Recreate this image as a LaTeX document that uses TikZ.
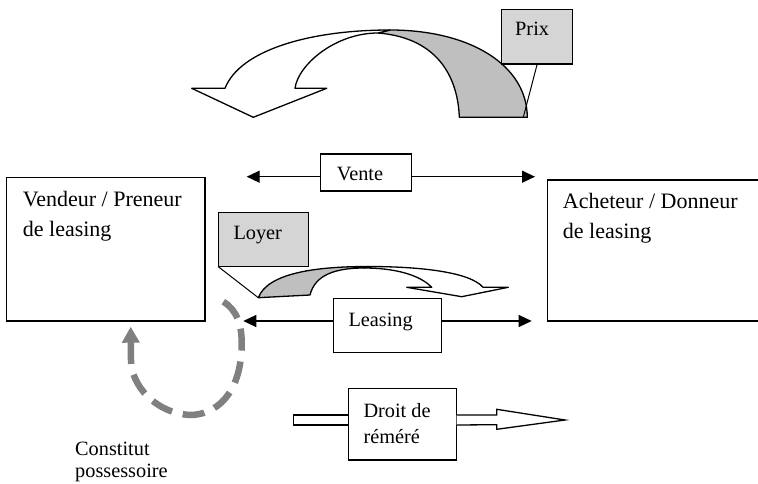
\documentclass[tikz,border=0pt]{standalone}
\usepackage{fontspec}
\setmainfont{Liberation Serif}
\usepackage{tikz}
\usetikzlibrary{arrows.meta}

\begin{document}
\begin{tikzpicture}[x=1pt,y=1pt,yscale=-1,
  box/.style={draw, line width=1.3pt, inner sep=0pt, outer sep=0pt},
  greybox/.style={box, fill=gray!33},
  tag/.style={inner sep=0pt, align=left, font=\fontsize{20.3}{24}\selectfont},
  bigtag/.style={tag, font=\fontsize{22}{30}\selectfont},
  tip/.style={line width=1.3pt, -{Triangle[length=13pt,width=12pt]}},
  outline/.style={draw, line width=1.3pt, line join=round},
  dashflow/.style={draw=gray, line width=6.5pt, dash pattern=on 22pt off 11pt,
    -{Triangle[length=16pt,width=17pt]}}]
\useasboundingbox (0,0) rectangle (758,484);

%Curved Arrow (Prix)
\path [outline, fill=gray!50] (459.3,117.3) -- (527.3,117.3) .. controls (527,65) and (470,30) .. (390,30) -- (378,33) .. controls (440,38) and (458,80) .. (459.3,117.3) -- cycle;
\path [outline, fill=white] (390,30) .. controls (310,30) and (240,50) .. (225,88.3) -- (191.7,88.3) -- (253.3,117.3) -- (326.7,88.3) -- (295,88.3) .. controls (298,65) and (335,33) .. (378,33) -- cycle;
\coordinate (prixend) at (523.3,117.3);

%Curved Arrow (Loyer)
\path [outline, fill=gray!50] (258.3,297.7) -- (310,295) .. controls (315,275) and (335,268) .. (364,268) -- (368,266.5) .. controls (320,266.5) and (268,272) .. (258.3,297.7) -- cycle;
\path [outline, fill=white] (368,266.5) .. controls (420,266.5) and (470,272) .. (483,287.3) -- (508.3,287.3) -- (461.7,296.7) -- (406.7,287.3) -- (431.7,287.3) .. controls (420,275) and (395,268) .. (364,268) -- cycle;
\coordinate (loyerend) at (258.3,297.7);

%Shape: Rectangle
\node [box, minimum width=198.3pt, minimum height=143.3pt] (vendeur) at (105.85,249.35) {};
%Shape: Rectangle
\node [box, minimum width=228pt, minimum height=141pt] (acheteur) at (661.3,250.5) {};
%Shape: Rectangle
\node [box, fill=white, minimum width=91pt, minimum height=37pt] (vente) at (366.2,172.5) {};
%Shape: Rectangle
\node [greybox, minimum width=90pt, minimum height=54pt] (loyer) at (263.3,239.7) {};
%Shape: Rectangle
\node [greybox, minimum width=71pt, minimum height=54.7pt] (prix) at (537.2,36.65) {};
%Shape: Rectangle
\node [box, fill=white, minimum width=108.4pt, minimum height=54.4pt] (leasing) at (387.5,325.5) {};
%Shape: Rectangle
\node [box, fill=white, minimum width=108.4pt, minimum height=71.7pt] (droit) at (402.5,424.15) {};

%Straight Lines
\draw [line width=1pt] (prix.south) -- (prixend);
\draw [line width=1pt] (loyer.south west) -- (loyerend);

%Straight Lines
\coordinate (venteL) at (246.7,176.7);
\coordinate (venteR) at (535,176.7);
\draw [tip] (vente.west |- venteL) -- (venteL);
\draw [tip] (vente.east |- venteR) -- (venteR);
\coordinate (leasingL) at (243.3,321);
\coordinate (leasingR) at (531.7,321);
\draw [tip] (leasing.west |- leasingL) -- (leasingL);
\draw [tip] (leasing.east |- leasingR) -- (leasingR);

%Block Arrow (Droit de reemere)
\draw [line width=1.3pt, fill=white] (293.3,415) rectangle (348.3,425);
\draw [line width=1.3pt, fill=white, line join=miter] (456.7,415) -- (496.7,415) -- (496.7,409.3) -- (565,420) -- (496.7,429.3) -- (496.7,424.7) -- (456.7,425);

%Dashed Curve
\coordinate (cpstart) at (223.3,301.7);
\coordinate (cpend) at (130.7,326.7);
\path [dashflow] (cpstart) .. controls (237,310) and (242,325) .. (241.7,345) .. controls (241,395) and (215,415) .. (190,415) .. controls (155,413) and (131,385) .. (131,360) -- (cpend);

% Text Node
\node [bigtag, anchor=north west] (vendeurtxt) at (22.7,185) {\strut Vendeur / Preneur\\de leasing};
% Text Node
\node [bigtag, anchor=north west] (acheteurtxt) at (562.7,187.3) {\strut Acheteur / Donneur\\de leasing};
% Text Node
\node [tag, anchor=base west] (ventetxt) at (336.7,180.7) {Vente};
% Text Node
\node [tag, anchor=base west] (prixtxt) at (515,36) {Prix};
% Text Node
\node [tag, anchor=base west] (loyertxt) at (233.3,239.3) {Loyer};
% Text Node
\node [tag, anchor=base west] (leasingtxt) at (348.3,326) {Leasing};
% Text Node
\node [tag, anchor=north west, font=\fontsize{20.3}{26}\selectfont] (droittxt) at (363.3,399.1) {\strut Droit de\\réméré};
% Text Node
\node [tag, anchor=north west, font=\fontsize{20.3}{21.5}\selectfont] (constituttxt) at (75,440.65) {\strut Constitut\\possessoire};

\end{tikzpicture}
\end{document}
